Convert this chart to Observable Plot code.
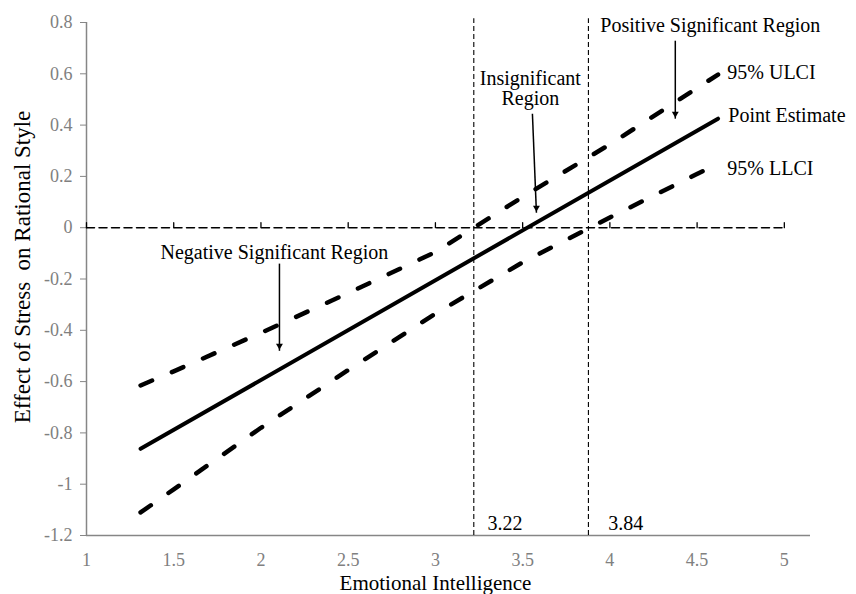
<!DOCTYPE html>
<html>
<head>
<meta charset="utf-8">
<script src="https://cdn.jsdelivr.net/npm/d3@7"></script>
<script src="https://cdn.jsdelivr.net/npm/@observablehq/plot@0.6"></script>
<style>
  body { margin: 0; background: #fff; }
  svg text { white-space: pre; }
</style>
</head>
<body>
<div id="chart"></div>
<script>
// ---- data ----
const xTicks = [1, 1.5, 2, 2.5, 3, 3.5, 4, 4.5, 5];
const yTicks = [-1.2, -1, -0.8, -0.6, -0.4, -0.2, 0, 0.2, 0.4, 0.6, 0.8];

const peX = [1.31, 4.62];
const peY = [-0.862, 0.425];

const ciX   = [1.31, 1.5, 2.0, 2.5, 3.0, 3.5, 4.0, 4.62];
const ulciY = [-0.615, -0.56, -0.41, -0.255, -0.095, 0.12, 0.325, 0.597];
const llciY = [-1.11, -1.02, -0.78, -0.555, -0.335, -0.135, 0.04, 0.25];

const jnX = [3.22, 3.877];
const jnLabels = ["3.22", "3.84"];
const jnLabelX = [3.298, 3.99];
const jnLabelY = -1.154;
const jnTop = 0.815;

// centred annotations
const midLabels = ["Positive Significant Region", "Insignificant", "Region", "Negative Significant Region"];
const midX = [4.576, 3.544, 3.544, 2.077];
const midY = [0.788, 0.583, 0.505, -0.097];
// left-aligned line labels
const lineLabels = ["95% ULCI", "Point Estimate", "95% LLCI"];
const lineLabelX = [4.673, 4.679, 4.673];
const lineLabelY = [0.604, 0.437, 0.230];

const arrowX1 = [4.375, 3.556, 2.106];
const arrowY1 = [0.729, 0.444, -0.14];
const arrowX2 = [4.375, 3.579, 2.106];
const arrowY2 = [0.425, 0.058, -0.48];

const xTitle = "Emotional Intelligence";
const yTitle = "Effect of Stress  on Rational Style";

// ---- tables ----
const pe = peX.map((x, i) => ({x, y: peY[i]}));
const ulci = ciX.map((x, i) => ({x, y: ulciY[i]}));
const llci = ciX.map((x, i) => ({x, y: llciY[i]}));
const mid = midLabels.map((t, i) => ({t, x: midX[i], y: midY[i]}));
const lab = lineLabels.map((t, i) => ({t, x: lineLabelX[i], y: lineLabelY[i]}));
const arrows = arrowX1.map((x1, i) => ({x1, y1: arrowY1[i], x2: arrowX2[i], y2: arrowY2[i]}));
const jn = jnX.map((x, i) => ({x, label: jnLabels[i], lx: jnLabelX[i]}));

const FONT = "Liberation Serif, Times New Roman, serif";
const GREY = "#808080";
const tickLine = {draw(ctx, l) { ctx.moveTo(0, 0); ctx.lineTo(0, -l); }};

const chart = Plot.plot({
  width: 856,
  height: 594,
  marginLeft: 86,
  marginRight: 46,
  marginTop: 22,
  marginBottom: 59,
  style: {fontFamily: FONT, background: "#fff", overflow: "visible"},
  x: {domain: [1, 5.15]},
  y: {domain: [-1.2, 0.8]},
  marks: [
    // axes lines
    Plot.ruleX([1], {stroke: "#868686", strokeWidth: 1.5}),
    Plot.ruleY([-1.2], {stroke: "#868686", strokeWidth: 1.5}),
    Plot.axisY({ticks: yTicks, tickFormat: d => String(d), tickSize: 6, tickPadding: 8,
      stroke: "#868686", fill: GREY, fontSize: 18, fontFamily: FONT, label: null}),
    Plot.axisX({ticks: xTicks, tickFormat: d => String(d), tickSize: 0, tickPadding: 18,
      fill: GREY, fontSize: 18, fontFamily: FONT, label: null}),
    // zero line with ticks
    Plot.line([{x: 1, y: 0}, {x: 5, y: 0}], {x: "x", y: "y", stroke: "black", strokeWidth: 1.5, strokeDasharray: "8,4.5"}),
    Plot.vector(xTicks, {x: d => d, y: () => 0, length: 5, rotate: 0, anchor: "start", shape: tickLine, stroke: "black", strokeWidth: 1.3}),
    // J-N vertical lines
    Plot.ruleX(jn, {x: "x", y1: -1.2, y2: jnTop, stroke: "black", strokeWidth: 1.1, strokeDasharray: "5,3"}),
    Plot.text(jn, {x: "lx", y: () => jnLabelY, text: "label", textAnchor: "start", fontSize: 20, fontFamily: FONT, fill: "black"}),
    // CI bands and point estimate
    Plot.line(ulci, {x: "x", y: "y", stroke: "black", strokeWidth: 4.5, strokeDasharray: "12.5,21.5", strokeLinecap: "round"}),
    Plot.line(llci, {x: "x", y: "y", stroke: "black", strokeWidth: 4.5, strokeDasharray: "12.5,21.5", strokeLinecap: "round"}),
    Plot.line(pe, {x: "x", y: "y", stroke: "black", strokeWidth: 4}),
    // annotations
    Plot.text(mid, {x: "x", y: "y", text: "t", textAnchor: "middle", fontSize: 20, fontFamily: FONT, fill: "black"}),
    Plot.text(lab, {x: "x", y: "y", text: "t", textAnchor: "start", fontSize: 20, fontFamily: FONT, fill: "black"}),
    Plot.link(arrows, {x1: "x1", y1: "y1", x2: "x2", y2: "y2", stroke: "black", strokeWidth: 1.5}),
    Plot.dot(arrows, {x: "x2", y: "y2", symbol: "triangle2", r: 3.3, rotate: 180, dy: -5, fill: "black", stroke: "none"}),
    // axis titles
    Plot.text([xTitle], {frameAnchor: "bottom", textAnchor: "middle", lineAnchor: "middle", dx: -13, dy: 48, fontSize: 21, fontFamily: FONT, fill: "black"}),
    Plot.text([yTitle], {frameAnchor: "left", textAnchor: "middle", lineAnchor: "middle", rotate: -90, dx: -64, dy: -12, fontSize: 23, fontFamily: FONT, fill: "black"})
  ]
});
document.getElementById("chart").appendChild(chart);
</script>
</body>
</html>
